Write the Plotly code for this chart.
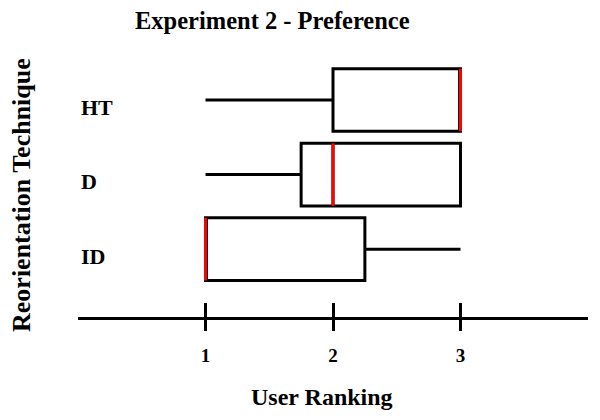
import plotly.graph_objects as go

categories = ["HT", "D", "ID"]
q1 = [2.0, 1.75, 1.0]
median = [3.0, 2.0, 1.0]
q3 = [3.0, 3.0, 2.25]
lower = [1.0, 1.0, 1.0]
upper = [3.0, 3.0, 3.0]
x_ticks = [1, 2, 3]

title_text = "Experiment 2 - Preference"
x_title = "User Ranking"
y_title = "Reorientation Technique"

FONT = "Liberation Serif"

fig = go.Figure()

# boxes
fig.add_trace(go.Box(
    y=categories, q1=q1, median=median, q3=q3,
    lowerfence=lower, upperfence=upper,
    orientation="h", boxpoints=False,
    fillcolor="rgba(0,0,0,0)",
    line=dict(color="black", width=3),
    whiskerwidth=0, width=0.84,
    hoverinfo="skip", showlegend=False,
))

# red median lines (zero-width boxes at the median)
fig.add_trace(go.Box(
    y=categories, q1=median, median=median, q3=median,
    lowerfence=median, upperfence=median,
    orientation="h", boxpoints=False,
    fillcolor="rgba(0,0,0,0)",
    line=dict(color="#ff0000", width=3),
    whiskerwidth=0, width=0.84,
    xaxis="x2",
    hoverinfo="skip", showlegend=False,
))

annotations = []
for c in categories:
    annotations.append(dict(
        text=f"<b>{c}</b>", xref="paper", x=0, xanchor="left", xshift=1,
        yref="y", y=c, yanchor="middle", yshift=-7, showarrow=False,
        font=dict(family=FONT, size=22, color="black"),
    ))
annotations += [
    dict(text=f"<b>{title_text}</b>", xref="paper", yref="paper",
         x=0.382, y=1.151, xanchor="center", yanchor="middle", showarrow=False,
         font=dict(family=FONT, size=24.5, color="black")),
    dict(text=f"<b>{x_title}</b>", xref="paper", yref="paper",
         x=0.478, y=-0.31, xanchor="center", yanchor="middle", showarrow=False,
         font=dict(family=FONT, size=24, color="black")),
    dict(text=f"<b>{y_title}</b>", xref="paper", yref="paper",
         x=0, xshift=-56, y=0.473, xanchor="center", yanchor="middle",
         textangle=-90, showarrow=False,
         font=dict(family=FONT, size=26, color="black")),
]

fig.update_layout(
    width=600, height=420,
    margin=dict(l=70, r=20, t=51, b=111, pad=0, autoexpand=False),
    paper_bgcolor="white", plot_bgcolor="white",
    boxmode="overlay",
    showlegend=False,
    annotations=annotations,
    xaxis=dict(
        range=[0, 4], tickvals=x_ticks, ticktext=[f"<b>{v}</b>" for v in x_ticks],
        showgrid=False, zeroline=False,
        showline=True, linecolor="black", linewidth=3,
        ticks="outside", ticklen=11, tickwidth=2.5, tickcolor="black",
        ticklabelstandoff=8,
        tickfont=dict(family=FONT, size=19, color="black"),
    ),
    xaxis2=dict(
        overlaying="x", matches="x", side="bottom", anchor="y",
        range=[0, 4], tickvals=x_ticks, showticklabels=False,
        showgrid=False, zeroline=False, showline=False,
        ticks="inside", ticklen=14, tickwidth=2.5, tickcolor="black",
    ),
    yaxis=dict(
        type="category", categoryorder="array", categoryarray=["ID", "D", "HT"],
        range=[-0.91, 2.55], showgrid=False, zeroline=False,
        showline=False, showticklabels=False, ticks="",
    ),
)

fig.write_html("out.html")
